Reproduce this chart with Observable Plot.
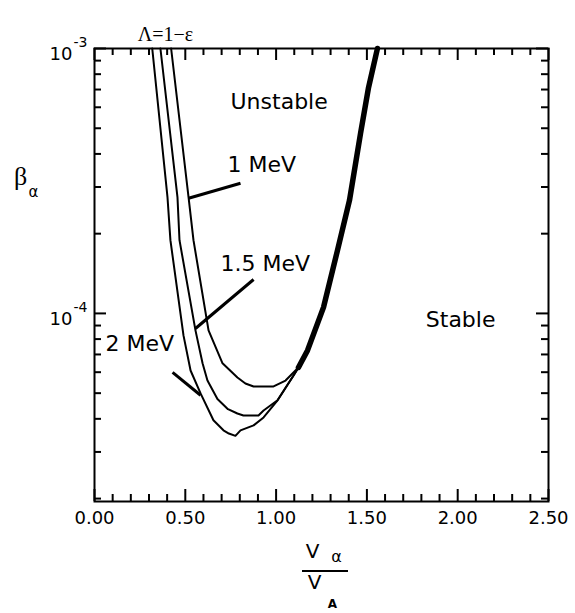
<!DOCTYPE html>
<html><head><meta charset="utf-8">
<script src="https://cdn.jsdelivr.net/npm/d3@7"></script>
<script src="https://cdn.jsdelivr.net/npm/@observablehq/plot@0.6"></script>
<style>body{margin:0;background:#fff}</style>
</head><body><div id="chart"></div>
<script>
// x = V_alpha / V_A, y = beta_alpha (log)
const curve2MeV = [[0.318,1.0e-3],[0.402,2.74e-4],[0.418,1.89e-4],[0.490,8.26e-5],[0.529,6.09e-5],[0.584,4.99e-5],[0.655,3.95e-5],[0.710,3.62e-5],[0.740,3.52e-5],[0.776,3.45e-5],[0.804,3.62e-5],[0.876,3.78e-5],[0.931,4.05e-5],[1.008,4.70e-5],[1.096,5.83e-5],[1.123,6.25e-5]];
const curve15MeV = [[0.363,1.0e-3],[0.457,2.74e-4],[0.468,1.89e-4],[0.556,8.63e-5],[0.595,6.48e-5],[0.622,5.58e-5],[0.677,4.75e-5],[0.735,4.35e-5],[0.787,4.19e-5],[0.820,4.12e-5],[0.903,4.12e-5],[0.931,4.30e-5],[1.008,4.70e-5],[1.096,5.83e-5],[1.123,6.25e-5]];
const curve1MeV = [[0.422,1.0e-3],[0.518,2.74e-4],[0.545,1.89e-4],[0.628,8.63e-5],[0.705,6.48e-5],[0.787,5.73e-5],[0.831,5.44e-5],[0.876,5.30e-5],[0.986,5.30e-5],[1.052,5.58e-5],[1.123,6.25e-5]];
const envelope = [[1.123,6.25e-5],[1.173,7.25e-5],[1.261,1.054e-4],[1.338,1.73e-4],[1.404,2.67e-4],[1.465,4.78e-4],[1.509,7.12e-4],[1.558,1.0e-3]];

const leader1 = [[0.804,3.10e-4],[0.518,2.72e-4]];
const leader15 = [[0.876,1.343e-4],[0.556,8.77e-5]];
const leader2 = [[0.430,5.99e-5],[0.584,4.91e-5]];

const curveLabels = ["1 MeV","1.5 MeV","2 MeV"];
const curveLabelX = [0.732,0.694,0.061];
const curveLabelY = [3.62e-4,1.54e-4,7.64e-5];

const unstableLabel = ["Unstable"];
const unstableX = [0.749];
const unstableY = [6.28e-4];
const stableLabel = ["Stable"];
const stableX = [2.208];
const stableY = [9.42e-5];

const xMajor = [0,0.5,1,1.5,2,2.5];
const xTickLabels = ["0.00","0.50","1.00","1.50","2.00","2.50"];
const xMinor = [0.1,0.2,0.3,0.4,0.6,0.7,0.8,0.9,1.1,1.2,1.3,1.4,1.6,1.7,1.8,1.9,2.1,2.2,2.3,2.4];
const yMajor = [1e-3,1e-4];
const yExponents = ["-3","-4"];
const yMinor = [2e-5,3e-5,4e-5,5e-5,6e-5,7e-5,8e-5,9e-5,2e-4,3e-4,4e-4,5e-4,6e-4,7e-4,8e-4,9e-4];

const W = 575, H = 613, mL = 94, mR = 27, mT = 48, mB = 112;
const innerW = W - mL - mR, innerH = H - mT - mB;
const X = d => d[0], Y = d => d[1];
const lineOpts = {x: X, y: Y, stroke: "#000", strokeLinejoin: "round", strokeLinecap: "round"};
const sans = "DejaVu Sans";
const tk = {stroke: "#000", strokeWidth: 2};
const majorLen = 12, minorLen = 7;

const chart = Plot.plot({
  width: W, height: H,
  marginLeft: mL, marginRight: mR, marginTop: mT, marginBottom: mB,
  style: {background: "#fff", color: "#000", fontFamily: sans},
  x: {domain: [0, 2.5], axis: null},
  y: {type: "log", domain: [1.95e-5, 1e-3], axis: null},
  marks: [
    Plot.line(curve2MeV, {...lineOpts, strokeWidth: 2}),
    Plot.line(curve15MeV, {...lineOpts, strokeWidth: 2}),
    Plot.line(curve1MeV, {...lineOpts, strokeWidth: 2}),
    Plot.line(envelope, {...lineOpts, strokeWidth: 5.5}),
    Plot.line(leader1, {...lineOpts, strokeWidth: 3, strokeLinecap: "butt"}),
    Plot.line(leader15, {...lineOpts, strokeWidth: 3, strokeLinecap: "butt"}),
    Plot.line(leader2, {...lineOpts, strokeWidth: 3, strokeLinecap: "butt"}),
    // inward ticks: full-frame rules shortened by insets
    Plot.ruleX(xMajor, {x: d => d, ...tk, insetTop: innerH - majorLen}),
    Plot.ruleX(xMinor, {x: d => d, ...tk, insetTop: innerH - minorLen}),
    Plot.ruleX(xMajor, {x: d => d, ...tk, insetBottom: innerH - majorLen}),
    Plot.ruleX(xMinor, {x: d => d, ...tk, insetBottom: innerH - minorLen}),
    Plot.ruleY(yMajor, {y: d => d, ...tk, insetRight: innerW - majorLen}),
    Plot.ruleY(yMinor, {y: d => d, ...tk, insetRight: innerW - minorLen}),
    Plot.ruleY(yMajor, {y: d => d, ...tk, insetLeft: innerW - majorLen}),
    Plot.ruleY(yMinor, {y: d => d, ...tk, insetLeft: innerW - minorLen}),
    Plot.frame({stroke: "#000", strokeWidth: 2}),
    // tick labels
    Plot.text(xMajor, {x: d => d, text: (d, i) => xTickLabels[i], frameAnchor: "bottom", dy: 22, fontSize: 18, fontFamily: sans}),
    Plot.text(yMajor, {y: d => d, text: () => "10", frameAnchor: "left", textAnchor: "end", dx: -22, dy: 6, fontSize: 18, fontFamily: sans}),
    Plot.text(yMajor, {y: d => d, text: (d, i) => yExponents[i], frameAnchor: "left", textAnchor: "start", dx: -21, dy: -6, fontSize: 14, fontFamily: sans}),
    // annotations
    Plot.text(curveLabels, {x: (d, i) => curveLabelX[i], y: (d, i) => curveLabelY[i], text: d => d, textAnchor: "start", fontSize: 22, fontFamily: sans}),
    Plot.text(unstableLabel, {x: (d, i) => unstableX[i], y: (d, i) => unstableY[i], text: d => d, textAnchor: "start", fontSize: 22, fontFamily: sans}),
    Plot.text(stableLabel, {x: (d, i) => stableX[i], y: (d, i) => stableY[i], text: d => d, textAnchor: "end", fontSize: 22, fontFamily: sans}),
    // titles
    Plot.text(["Λ=1−ε"], {frameAnchor: "top-left", text: d => d, textAnchor: "middle", dx: 71, dy: -22, fontSize: 20, fontFamily: "Liberation Serif"}),
    Plot.text(["β"], {frameAnchor: "top-left", text: d => d, textAnchor: "middle", dx: -74, dy: 118, fontSize: 26, fontFamily: "Liberation Serif"}),
    Plot.text(["α"], {frameAnchor: "top-left", text: d => d, textAnchor: "middle", dx: -61, dy: 138, fontSize: 15, fontFamily: sans}),
    Plot.text(["V"], {frameAnchor: "bottom-left", text: d => d, textAnchor: "middle", dx: 218, dy: 56, fontSize: 20, fontFamily: sans}),
    Plot.text(["α"], {frameAnchor: "bottom-left", text: d => d, textAnchor: "middle", dx: 242, dy: 60, fontSize: 16, fontFamily: sans}),
    Plot.text(["V"], {frameAnchor: "bottom-left", text: d => d, textAnchor: "middle", dx: 220, dy: 87, fontSize: 20, fontFamily: sans}),
    Plot.text(["A"], {frameAnchor: "bottom-left", text: d => d, textAnchor: "middle", dx: 238, dy: 106, fontSize: 12, fontWeight: "bold", fontFamily: sans})
  ]
});
// fraction bar of the x-axis title
d3.select(chart).append("line")
  .attr("x1", 302).attr("x2", 348).attr("y1", 571).attr("y2", 571)
  .attr("stroke", "#000").attr("stroke-width", 2);
document.getElementById("chart").appendChild(chart);
</script>
</body></html>
